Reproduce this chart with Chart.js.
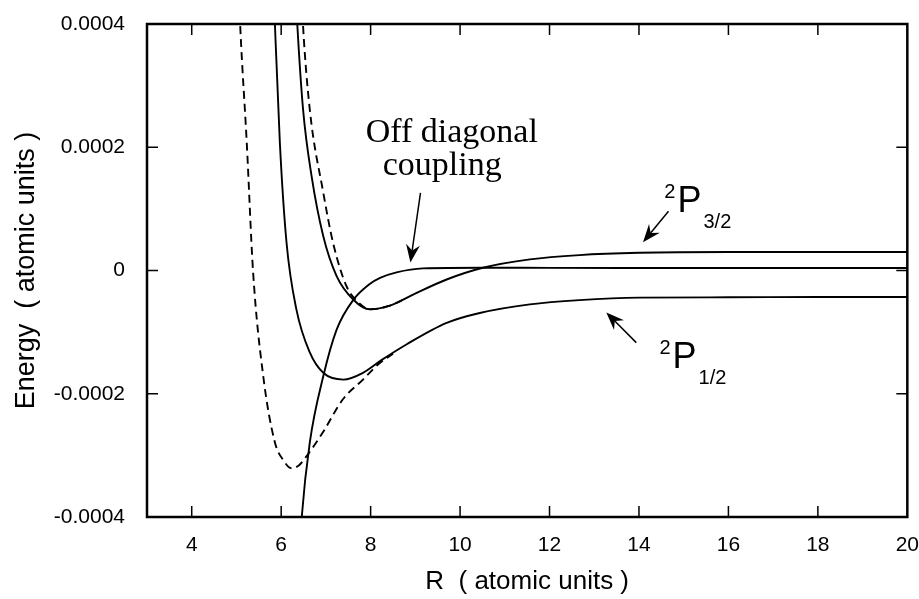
<!DOCTYPE html>
<html>
<head>
<meta charset="utf-8">
<script src="https://cdn.jsdelivr.net/npm/chart.js@4.4.1/dist/chart.umd.min.js"></script>
<style>
  html, body { margin: 0; padding: 0; background: #fff; }
  #wrap { width: 919px; height: 599px; }
</style>
</head>
<body>
<div id="wrap"><canvas id="potChart" width="919" height="599"></canvas></div>
<script>
// potential curves, R and energy in atomic units
const rLowerDashed = [5.05, 5.09, 5.23, 5.37, 5.60, 5.86, 6.05, 6.23, 6.40, 6.57, 6.93, 7.38, 7.83, 8.16, 8.50];
const eLowerDashed = [0.00046, 0.000388, 0.000208, 0.0, -0.000172, -0.000279, -0.000308, -0.000321, -0.000316, -0.000301, -0.000263, -0.000209, -0.000177, -0.000153, -0.000135];

const rUpperDashed = [6.45, 6.49, 6.64, 6.94, 7.16, 7.46, 7.70, 7.98, 8.43, 8.80];
const eUpperDashed = [0.00046, 0.000396, 0.000261, 0.000127, 0.000045, -0.0000255, -0.000050, -0.000063, -0.000057, -0.000045];

const rP12 = [5.82, 5.86, 5.97, 6.12, 6.34, 6.64, 6.94, 7.39, 7.83, 8.25, 8.80, 9.70, 10.44, 11.56, 12.67, 14.01, 16.0, 18.0, 20.0];
const eP12 = [0.00048, 0.0004, 0.000208, 0.000045, -0.000063, -0.000133, -0.000166, -0.000177, -0.000166, -0.000145, -0.000120, -0.000085, -0.000069, -0.000055, -0.000048, -0.000044, -0.0000435, -0.000043, -0.000043];

const rP32 = [6.32, 6.36, 6.49, 6.68, 6.94, 7.24, 7.61, 7.98, 8.43, 8.95, 9.70, 10.51, 11.56, 12.67, 14.01, 16.0, 18.0, 20.0];
const eP32 = [0.00046, 0.0004, 0.000261, 0.000153, 0.000056, -0.000009, -0.000047, -0.000063, -0.000057, -0.000039, -0.0000146, 0.0000044, 0.000018, 0.000025, 0.0000287, 0.00003, 0.00003, 0.00003];

const rCoupling = [6.42, 6.46, 6.64, 6.94, 7.24, 7.61, 7.98, 8.21, 8.58, 9.17, 10.5, 12.0, 14.0, 16.0, 18.0, 20.0];
const eCoupling = [-0.00045, -0.0004, -0.000279, -0.000172, -0.000096, -0.000048, -0.000022, -0.000012, -0.000003, 0.0000035, 0.0000045, 0.0000042, 0.000004, 0.000004, 0.000004, 0.000004];

const xTickValues = [4, 6, 8, 10, 12, 14, 16, 18, 20];
const yTickValues = [-0.0004, -0.0002, 0, 0.0002, 0.0004];
const yTickLabels = ['-0.0004', '-0.0002', '0', '0.0002', '0.0004'];

const xTitle = 'R  ( atomic units )';
const yTitle = 'Energy  ( atomic units )';

const toPoints = (rs, es) => rs.map((r, i) => ({ x: r, y: es[i] }));

function curve(rs, es, dashed) {
    return {
        data: toPoints(rs, es),
        showLine: true,
        borderColor: '#000',
        borderWidth: 1.9,
        borderDash: dashed ? [8, 5] : [],
        pointRadius: 0,
        cubicInterpolationMode: 'monotone',
        fill: false
    };
}

// draws a line with a notched filled head at (x2, y2)
function arrow(ctx, x1, y1, x2, y2) {
    const a = Math.atan2(y2 - y1, x2 - x1);
    const c = Math.cos(a), s = Math.sin(a);
    const len = 18, half = 7, notch = 12;
    ctx.beginPath();
    ctx.moveTo(x1, y1);
    ctx.lineTo(x2 - c * notch, y2 - s * notch);
    ctx.stroke();
    ctx.beginPath();
    ctx.moveTo(x2, y2);
    ctx.lineTo(x2 - len * c + half * s, y2 - len * s - half * c);
    ctx.lineTo(x2 - notch * c, y2 - notch * s);
    ctx.lineTo(x2 - len * c - half * s, y2 - len * s + half * c);
    ctx.closePath();
    ctx.fill();
}

function termLabel(ctx, px, py, sub) {
    ctx.textBaseline = 'alphabetic';
    ctx.textAlign = 'left';
    ctx.font = "36px 'Liberation Sans', Arial, sans-serif";
    const w = ctx.measureText('P').width;
    ctx.fillText('P', px, py);
    ctx.font = "20px 'Liberation Sans', Arial, sans-serif";
    ctx.textAlign = 'right';
    ctx.fillText('2', px - 2, py - 14);
    ctx.textAlign = 'left';
    ctx.fillText(sub, px + w + 2, py + 16);
}

const framePlugin = {
    id: 'frame',
    afterDatasetsDraw(chart) {
        const { ctx, chartArea: a, scales: { x, y } } = chart;
        const tick = 11;
        ctx.save();
        ctx.strokeStyle = '#000';
        ctx.lineWidth = 2.5;
        ctx.strokeRect(a.left, a.top, a.right - a.left, a.bottom - a.top);

        ctx.lineWidth = 1.5;
        ctx.beginPath();
        xTickValues.forEach(v => {
            const px = x.getPixelForValue(v);
            if (px < a.right - 2) {
                ctx.moveTo(px, a.bottom); ctx.lineTo(px, a.bottom - tick);
                ctx.moveTo(px, a.top); ctx.lineTo(px, a.top + tick);
            }
        });
        yTickValues.forEach(v => {
            const py = y.getPixelForValue(v);
            if (py > a.top + 2 && py < a.bottom - 2) {
                ctx.moveTo(a.left, py); ctx.lineTo(a.left + tick, py);
                ctx.moveTo(a.right, py); ctx.lineTo(a.right - tick, py);
            }
        });
        ctx.stroke();
        ctx.restore();
    }
};

const notesPlugin = {
    id: 'notes',
    afterDraw(chart) {
        const { ctx, scales: { x, y } } = chart;
        const X = v => x.getPixelForValue(v);
        const Y = v => y.getPixelForValue(v);
        ctx.save();
        ctx.fillStyle = '#000';
        ctx.strokeStyle = '#000';
        ctx.lineWidth = 1.5;

        ctx.font = "34px 'Liberation Serif', 'Times New Roman', serif";
        ctx.textAlign = 'left';
        ctx.textBaseline = 'alphabetic';
        ctx.fillText('Off diagonal', X(7.89), Y(0.000209));
        ctx.fillText('coupling', X(8.27), Y(0.000155));

        arrow(ctx, X(9.115), Y(0.000126), X(8.89), Y(0.000013));
        arrow(ctx, X(14.66), Y(0.000096), X(14.09), Y(0.0000458));
        arrow(ctx, X(13.94), Y(-0.000117), X(13.27), Y(-0.000068));

        termLabel(ctx, X(14.86), Y(0.0000955), '3/2');
        termLabel(ctx, X(14.75), Y(-0.000159), '1/2');
        ctx.restore();
    }
};

Chart.defaults.font.family = "'Liberation Sans', Arial, sans-serif";
Chart.defaults.color = '#000';

new Chart(document.getElementById('potChart'), {
    type: 'scatter',
    data: {
        datasets: [
            curve(rP12, eP12, false),
            curve(rP32, eP32, false),
            curve(rCoupling, eCoupling, false),
            curve(rLowerDashed, eLowerDashed, true),
            curve(rUpperDashed, eUpperDashed, true)
        ]
    },
    options: {
        responsive: false,
        animation: false,
        layout: { padding: { left: 10, right: 11, top: 24, bottom: 0 } },
        plugins: {
            legend: { display: false },
            tooltip: { enabled: false }
        },
        scales: {
            x: {
                type: 'linear',
                min: 3,
                max: 20,
                afterFit: s => { s.height = 82; },
                afterBuildTicks: s => { s.ticks = xTickValues.map(v => ({ value: v })); },
                grid: { display: false, drawTicks: true, tickLength: 16 },
                border: { display: false },
                ticks: { padding: 0, autoSkip: false, maxRotation: 0, font: { size: 21 } },
                title: { display: true, text: xTitle, font: { size: 26 }, padding: { top: 0, bottom: 2 } }
            },
            y: {
                type: 'linear',
                min: -0.0004,
                max: 0.0004,
                afterFit: s => { s.width = 137; },
                afterBuildTicks: s => { s.ticks = yTickValues.map(v => ({ value: v })); },
                grid: { display: false, drawTicks: true, tickLength: 22 },
                border: { display: false },
                ticks: { padding: 0, font: { size: 21 }, callback: (v, i) => yTickLabels[i] },
                title: { display: true, text: yTitle, font: { size: 27 }, padding: { top: 0, bottom: 0 } }
            }
        }
    },
    plugins: [framePlugin, notesPlugin]
});
</script>
</body>
</html>
